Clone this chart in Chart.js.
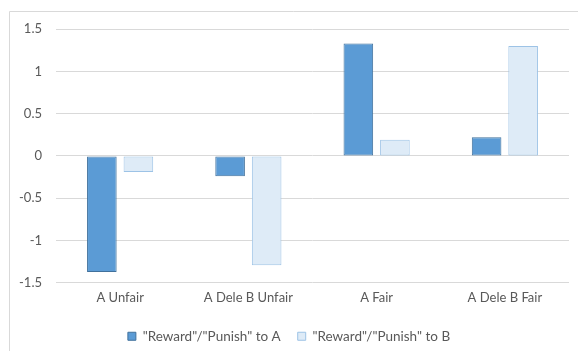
<!DOCTYPE html>
<html>
<head>
<meta charset="utf-8">
<script src="https://cdn.jsdelivr.net/npm/chart.js@4/dist/chart.umd.min.js"></script>
<style>
  html, body { margin: 0; padding: 0; background: #fff; }
  #wrap { width: 578px; height: 351px; position: relative; }
</style>
</head>
<body>
<div id="wrap"><canvas id="chart"></canvas></div>
<script>
const categories = ["A Unfair", "A Dele B Unfair", "A Fair", "A Dele B Fair"];
const seriesNames = ['"Reward"/"Punish" to A', '"Reward"/"Punish" to B'];
const toA = [-1.37, -0.24, 1.33, 0.22];
const toB = [-0.19, -1.29, 0.19, 1.3];
const yTicks = [-1.5, -1, -0.5, 0, 0.5, 1, 1.5];

const textColor = "#595959";
const gridColor = "#D9D9D9";

// thin frame along the top and left edge of the chart
const framePlugin = {
  id: "frame",
  beforeDraw(chart) {
    const ctx = chart.ctx;
    ctx.save();
    ctx.strokeStyle = "#D9D9D9";
    ctx.lineWidth = 1;
    ctx.beginPath();
    ctx.moveTo(9.5, chart.height);
    ctx.lineTo(9.5, 11.5);
    ctx.lineTo(chart.width, 11.5);
    ctx.stroke();
    ctx.restore();
  },
};

Chart.defaults.font.family = "Lato, 'Open Sans', sans-serif";
Chart.defaults.font.size = 13;
Chart.defaults.color = textColor;

new Chart(document.getElementById("chart"), {
  type: "bar",
  data: {
    labels: categories,
    datasets: [
      {
        label: seriesNames[0],
        data: toA,
        backgroundColor: "#5B9BD5",
        borderColor: "#41719C",
        borderWidth: 1,
        borderSkipped: false,
      },
      {
        label: seriesNames[1],
        data: toB,
        backgroundColor: "#DEEBF7",
        borderColor: "#9DC3E6",
        borderWidth: 1,
        borderSkipped: false,
      },
    ],
  },
  options: {
    responsive: true,
    maintainAspectRatio: false,
    animation: false,
    datasets: {
      bar: { categoryPercentage: 0.57, barPercentage: 0.81 },
    },
    layout: { padding: { left: 9, right: 9, top: 29, bottom: -2 } },
    plugins: {
      tooltip: { enabled: false },
      legend: {
        position: "bottom",
        labels: {
          boxWidth: 8,
          boxHeight: 8,
          padding: 17,
          color: textColor,
          font: { size: 13.5 },
        },
      },
    },
    scales: {
      x: {
        grid: { display: false, drawTicks: false },
        border: { display: false },
        ticks: { padding: 7, color: textColor },
      },
      y: {
        min: -1.5,
        max: 1.5,
        afterFit: (s) => { s.width = 47; },
        afterBuildTicks: (s) => { s.ticks = yTicks.map((v) => ({ value: v })); },
        grid: { color: gridColor, lineWidth: 1, drawTicks: false },
        border: { display: false },
        ticks: {
          padding: 14,
          color: textColor,
          callback: (v) => String(v),
        },
      },
    },
  },
  plugins: [framePlugin],
});
</script>
</body>
</html>
